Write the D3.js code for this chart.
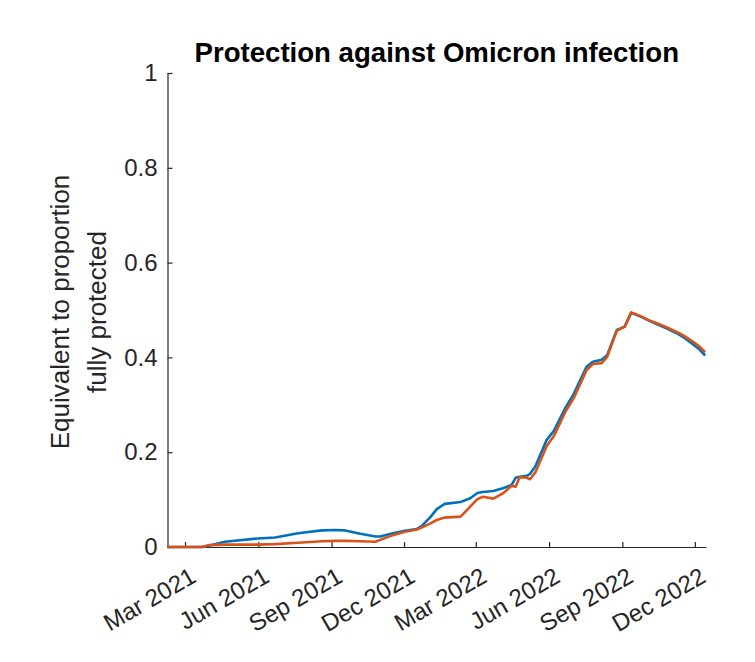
<!DOCTYPE html>
<html>
<head>
<meta charset="utf-8">
<script src="https://cdn.jsdelivr.net/npm/d3@7"></script>
<style>
  html, body { margin: 0; padding: 0; background: #fff; }
  svg { display: block; font-family: "Liberation Sans", Arial, sans-serif; }
</style>
</head>
<body>
<svg id="chart" width="755" height="662"></svg>
<script>
const titleText = "Protection against Omicron infection";
const yLabelLines = ["Equivalent to proportion", "fully protected"];

const dates = ["2021-02-07","2021-03-14","2021-03-22","2021-04-01","2021-04-20","2021-05-31","2021-06-22","2021-07-21","2021-08-20","2021-09-05","2021-09-18","2021-10-07","2021-10-26","2021-11-01","2021-11-17","2021-12-02","2021-12-17","2021-12-23","2022-01-03","2022-01-11","2022-01-21","2022-02-10","2022-02-22","2022-03-03","2022-03-10","2022-03-23","2022-04-04","2022-04-15","2022-04-20","2022-04-25","2022-05-04","2022-05-08","2022-05-15","2022-05-29","2022-06-07","2022-06-22","2022-07-02","2022-07-18","2022-07-26","2022-08-06","2022-08-13","2022-08-25","2022-09-04","2022-09-12","2022-09-24","2022-10-05","2022-10-16","2022-10-27","2022-11-07","2022-11-17","2022-11-27","2022-12-06","2022-12-14"];

const blueValues = [0,0,0,0.003,0.011,0.018,0.020,0.029,0.035,0.036,0.035,0.028,0.022,0.022,0.029,0.034,0.038,0.044,0.063,0.080,0.091,0.095,0.103,0.114,0.116,0.118,0.124,0.131,0.146,0.148,0.150,0.154,0.171,0.226,0.245,0.295,0.323,0.380,0.391,0.395,0.405,0.458,0.465,0.494,0.486,0.477,0.469,0.461,0.452,0.442,0.430,0.418,0.404];

const orangeValues = [0,0,0,0.004,0.005,0.005,0.006,0.009,0.012,0.013,0.013,0.012,0.011,0.015,0.025,0.032,0.037,0.041,0.050,0.057,0.062,0.064,0.085,0.101,0.106,0.102,0.113,0.129,0.127,0.147,0.146,0.143,0.158,0.213,0.234,0.287,0.314,0.373,0.386,0.388,0.401,0.456,0.465,0.495,0.487,0.478,0.471,0.463,0.455,0.446,0.435,0.424,0.411];

const xTickDates = ["2021-03-01","2021-06-01","2021-09-01","2021-12-01","2022-03-01","2022-06-01","2022-09-01","2022-12-01"];
const xTickLabels = ["Mar 2021","Jun 2021","Sep 2021","Dec 2021","Mar 2022","Jun 2022","Sep 2022","Dec 2022"];
const yTicks = [0, 0.2, 0.4, 0.6, 0.8, 1];
const yTickLabels = ["0", "0.2", "0.4", "0.6", "0.8", "1"];
const xDomain = ["2021-02-07", "2022-12-15"];

(function () {
const parse = d3.utcParse("%Y-%m-%d");
const pLeft = 167.5, pRight = 706, pTop = 73, pBottom = 547;
const axisColor = "#262626";

const svg = d3.select("#chart");
const x = d3.scaleUtc().domain(xDomain.map(parse)).range([pLeft, pRight]);
const y = d3.scaleLinear().domain([0, 1]).range([pBottom, pTop]);

// Title
svg.append("text")
  .attr("x", (pLeft + pRight) / 2).attr("y", 62)
  .attr("text-anchor", "middle")
  .attr("font-size", 27.6).attr("font-weight", "bold")
  .attr("fill", "#000")
  .text(titleText);

// Y label
const yl = svg.append("text")
  .attr("transform", `translate(0, ${(pTop + pBottom) / 2 + 2}) rotate(-90)`)
  .attr("text-anchor", "middle")
  .attr("font-size", 26).attr("fill", axisColor);
yLabelLines.forEach((t, i) => {
  yl.append("tspan").attr("x", 0).attr("y", i === 0 ? 69 : 106).text(t);
});

// X axis
const tickMap = new Map(xTickDates.map((d, i) => [+parse(d), xTickLabels[i]]));
const xAxis = d3.axisBottom(x)
  .tickValues(xTickDates.map(parse))
  .tickSizeInner(-5).tickSizeOuter(0)
  .tickFormat(d => tickMap.get(+d));
const gx = svg.append("g").attr("transform", `translate(0, ${pBottom})`).call(xAxis);
gx.select(".domain").attr("stroke", axisColor).attr("stroke-width", 1.2);
gx.selectAll(".tick line").attr("stroke", axisColor).attr("stroke-width", 1.2);
gx.selectAll(".tick text")
  .attr("font-size", 24).attr("fill", axisColor)
  .attr("font-family", "Liberation Sans, Arial, sans-serif")
  .attr("text-anchor", "end")
  .attr("dy", null)
  .attr("y", 0)
  .attr("transform", "translate(12, 34) rotate(-30)");

// Y axis
const ymap = new Map(yTicks.map((v, i) => [v, yTickLabels[i]]));
const yAxis = d3.axisLeft(y)
  .tickValues(yTicks)
  .tickSizeInner(-5).tickSizeOuter(0)
  .tickPadding(10)
  .tickFormat(d => ymap.get(d));
const gy = svg.append("g").attr("transform", `translate(${pLeft}, 0)`).call(yAxis);
gy.select(".domain").attr("stroke", axisColor).attr("stroke-width", 1.2);
gy.selectAll(".tick line").attr("stroke", axisColor).attr("stroke-width", 1.2);
gy.selectAll(".tick text")
  .attr("font-size", 24).attr("fill", axisColor)
  .attr("font-family", "Liberation Sans, Arial, sans-serif");

// Lines
const line = d3.line().x(d => x(d[0])).y(d => y(d[1]));
const blueData = dates.map((d, i) => [parse(d), blueValues[i]]);
const orangeData = dates.map((d, i) => [parse(d), orangeValues[i]]);

svg.append("path").datum(blueData)
  .attr("d", line).attr("fill", "none")
  .attr("stroke", "#0072BD").attr("stroke-width", 2.6)
  .attr("stroke-linejoin", "round");
svg.append("path").datum(orangeData)
  .attr("d", line).attr("fill", "none")
  .attr("stroke", "#D95319").attr("stroke-width", 2.6)
  .attr("stroke-linejoin", "round");
})();
</script>
</body>
</html>
